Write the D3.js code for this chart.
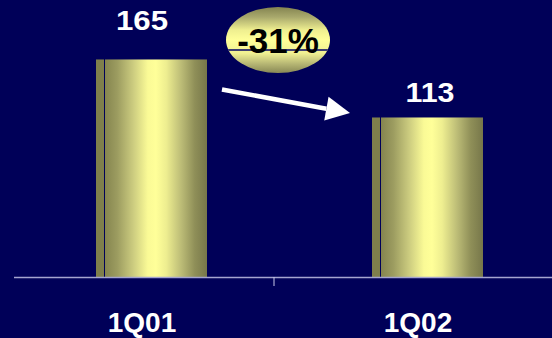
<!DOCTYPE html>
<html>
<head>
<meta charset="utf-8">
<script src="https://cdn.jsdelivr.net/npm/d3@7"></script>
<style>
  html, body { margin: 0; padding: 0; background: #000058; }
  svg { display: block; }
</style>
</head>
<body>
<svg id="chart" width="552" height="338"></svg>
<script>
// Quarterly values
const categories = ["1Q01", "1Q02"];
const values = [165, 113];
const changeLabel = "-31%";

const W = 552, H = 338;
const svg = d3.select("#chart");
svg.append("rect").attr("width", W).attr("height", H).attr("fill", "#000058");

const baseY = 277;
const x = d3.scaleBand().domain(categories).range([-2, 550]);
const y = d3.scaleLinear().domain([-30, 195]).range([baseY, 26]);

const barW = 111, stripW = 8, barShift = 15.5;
const labelDy = [-29, -15];
const labelShift = [6, 18];

const defs = svg.append("defs");
const barGrad = defs.append("linearGradient").attr("id", "barGrad")
  .attr("x1", 0).attr("x2", 1).attr("y1", 0).attr("y2", 0);
[[0, "#85854f"], [0.12, "#9c9c60"], [0.28, "#cdcd80"], [0.42, "#fafa96"],
 [0.5, "#ffff99"], [0.6, "#eeee90"], [0.75, "#bbbb76"], [0.88, "#8f8f58"], [1, "#77774a"]]
  .forEach(([o, c]) => barGrad.append("stop").attr("offset", o).attr("stop-color", c));

const ellGrad = defs.append("linearGradient").attr("id", "ellGrad")
  .attr("x1", 0).attr("x2", 0).attr("y1", 0).attr("y2", 1);
[[0, "#848450"], [0.15, "#a8a86c"], [0.35, "#efef90"], [0.5, "#ffff99"],
 [0.7, "#f0f092"], [0.85, "#baba76"], [1, "#888855"]]
  .forEach(([o, c]) => ellGrad.append("stop").attr("offset", o).attr("stop-color", c));

// Bars: dark side strip, thin gap, lit cylinder body
const bars = svg.append("g").selectAll("g").data(values).join("g")
  .attr("transform", (d, i) => `translate(${x(categories[i]) + x.bandwidth() / 2 + barShift - barW / 2},0)`);
bars.append("rect")
  .attr("x", 0).attr("y", d => y(d)).attr("width", stripW)
  .attr("height", d => baseY - y(d)).attr("fill", "#7f7f4c");
bars.append("rect")
  .attr("x", stripW + 1).attr("y", d => y(d)).attr("width", barW - stripW - 1)
  .attr("height", d => baseY - y(d)).attr("fill", "url(#barGrad)");

// Axis baseline and middle tick
svg.append("line").attr("x1", 14).attr("x2", W).attr("y1", baseY + 0.5).attr("y2", baseY + 0.5)
  .attr("stroke", "#a4a4d0").attr("stroke-width", 1.5);
const mid = x(categories[1]);
svg.append("line").attr("x1", mid).attr("x2", mid).attr("y1", baseY).attr("y2", baseY + 9)
  .attr("stroke", "#c8c8e8").attr("stroke-width", 1);

// Value labels (slightly widened, bold white)
svg.append("g").selectAll("text").data(values).join("text")
  .attr("x", (d, i) => x(categories[i]) + x.bandwidth() / 2 + labelShift[i])
  .attr("y", (d, i) => y(d) + labelDy[i])
  .attr("text-anchor", "middle")
  .attr("font-family", "Liberation Sans, Arial, sans-serif")
  .attr("font-weight", "bold").attr("font-size", 28).attr("fill", "#ffffff")
  .attr("textLength", (d, i) => i === 0 ? 52 : 49)
  .attr("lengthAdjust", "spacingAndGlyphs")
  .text(d => d);

// Category labels
svg.append("g").selectAll("text").data(categories).join("text")
  .attr("x", d => x(d) + x.bandwidth() / 2 + 6)
  .attr("y", 332)
  .attr("text-anchor", "middle")
  .attr("font-family", "Liberation Sans, Arial, sans-serif")
  .attr("font-weight", "bold").attr("font-size", 28).attr("fill", "#ffffff")
  .text(d => d);

// Change badge
const cx = mid + 4, cy = 40, rx = 52, ry = 33;
defs.append("clipPath").attr("id", "ellClip").append("ellipse")
  .attr("cx", cx).attr("cy", cy).attr("rx", rx).attr("ry", ry);
svg.append("ellipse").attr("cx", cx).attr("cy", cy).attr("rx", rx).attr("ry", ry)
  .attr("fill", "url(#ellGrad)");
svg.append("line").attr("clip-path", "url(#ellClip)")
  .attr("x1", cx - rx).attr("x2", cx + rx).attr("y1", cy + 10).attr("y2", cy + 10)
  .attr("stroke", "#000066").attr("stroke-width", 1.5);
svg.append("text").attr("x", cx).attr("y", cy + 13)
  .attr("text-anchor", "middle")
  .attr("font-family", "Liberation Sans, Arial, sans-serif")
  .attr("font-weight", "bold").attr("font-size", 35).attr("fill", "#000000")
  .text(changeLabel);

// Arrow from first bar toward second
const ax0 = 222, ay0 = 89.5, ax1 = 350, ay1 = 113;
const ang = Math.atan2(ay1 - ay0, ax1 - ax0);
const headLen = 24, headHalf = 12;
const bx = ax1 - headLen * Math.cos(ang), by = ay1 - headLen * Math.sin(ang);
svg.append("line").attr("x1", ax0).attr("y1", ay0).attr("x2", bx).attr("y2", by)
  .attr("stroke", "#ffffff").attr("stroke-width", 4.5);
svg.append("path")
  .attr("d", d3.line()([
    [ax1, ay1],
    [bx - headHalf * Math.sin(ang), by + headHalf * Math.cos(ang)],
    [bx + headHalf * Math.sin(ang), by - headHalf * Math.cos(ang)]
  ]) + "Z")
  .attr("fill", "#ffffff");
</script>
</body>
</html>
